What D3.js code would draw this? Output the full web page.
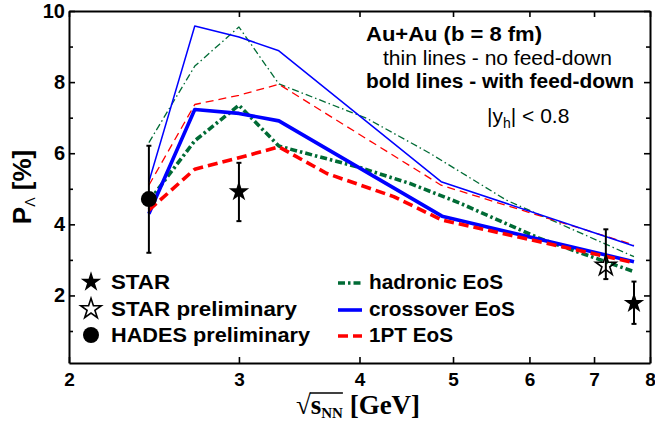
<!DOCTYPE html>
<html>
<head>
<meta charset="utf-8">
<script src="https://cdn.jsdelivr.net/npm/d3@7"></script>
<style>
  body { margin: 0; background: #fff; }
  svg { display: block; }
</style>
</head>
<body>
<div id="chart"></div>
<script>
// axis ticks
const xTicks = [2, 3, 4, 5, 6, 7, 8];
const yTicks = [2, 4, 6, 8, 10];
const yMinor = [1, 3, 5, 7, 9];

// model curves [sqrt(s_NN), P_Lambda %]
const hadronicThin = [[2.42, 6.3], [2.7, 8.45], [3.0, 9.55], [3.3, 7.95], [4.07, 6.98], [4.73, 6.0], [5.68, 4.68], [7.7, 3.09]];
const crossoverThin = [[2.42, 5.2], [2.7, 9.58], [3.0, 9.27], [3.3, 8.88], [4.86, 5.2], [7.7, 3.39]];
const onePtThin = [[2.42, 5.1], [2.7, 7.37], [3.0, 7.63], [3.3, 7.94], [4.86, 5.1], [7.7, 3.42]];
const hadronicBold = [[2.42, 4.65], [2.7, 6.35], [3.0, 7.35], [3.3, 6.2], [4.0, 5.6], [4.51, 5.15], [5.08, 4.6], [6.15, 3.6], [7.7, 2.67]];
const crossoverBold = [[2.42, 4.3], [2.7, 7.23], [3.0, 7.12], [3.3, 6.91], [4.87, 4.23], [7.7, 2.95]];
const onePtBold = [[2.42, 4.4], [2.7, 5.55], [3.0, 5.87], [3.3, 6.18], [3.7, 5.43], [4.34, 4.78], [4.87, 4.12], [7.7, 2.92]];

// measurements
const starX = [3.0, 7.7];
const starY = [4.92, 1.78];
const starLo = [4.09, 1.2];
const starHi = [5.73, 2.39];
const starPrelimX = [7.2];
const starPrelimY = [2.84];
const starPrelimLo = [2.46];
const starPrelimHi = [3.86];
const hadesX = [2.42];
const hadesY = [4.71];
const hadesLo = [3.2];
const hadesHi = [6.21];

const width = 655, height = 429;
const margin = {top: 11, right: 5, bottom: 66, left: 69};
const green = "#006b35", blue = "#0000ff", red = "#ff0000";
const sans = "'Liberation Sans', Arial, sans-serif";

const svg = d3.select("#chart").append("svg")
    .attr("width", width)
    .attr("height", height);

const x = d3.scaleLog().domain([2, 8]).range([margin.left, width - margin.right]);
const y = d3.scaleLinear().domain([0.1, 10]).range([height - margin.bottom, margin.top]);

// axes (ticks point inward on all four sides)
function styleAxis(g) {
    g.select(".domain").attr("stroke", "#000").attr("stroke-width", 2);
    g.selectAll(".tick line").attr("stroke", "#000").attr("stroke-width", 1.6);
    g.selectAll(".tick text")
        .attr("fill", "#000")
        .style("font-family", sans)
        .style("font-weight", "bold");
}

svg.append("g")
    .attr("transform", `translate(0,${height - margin.bottom})`)
    .call(d3.axisBottom(x).tickValues(xTicks).tickFormat(d3.format("d"))
        .tickSizeInner(-6).tickSizeOuter(0).tickPadding(10))
    .call(styleAxis)
    .selectAll(".tick text").style("font-size", "19px");

svg.append("g")
    .attr("transform", `translate(0,${margin.top})`)
    .call(d3.axisTop(x).tickValues(xTicks).tickFormat("")
        .tickSizeInner(-6).tickSizeOuter(0))
    .call(styleAxis);

svg.append("g")
    .attr("transform", `translate(${margin.left},0)`)
    .call(d3.axisLeft(y).tickValues(yTicks).tickFormat(d3.format("d"))
        .tickSizeInner(-6).tickSizeOuter(0).tickPadding(4))
    .call(styleAxis)
    .selectAll(".tick text").style("font-size", "20px");

svg.append("g")
    .attr("transform", `translate(${margin.left},0)`)
    .call(d3.axisLeft(y).tickValues(yMinor).tickFormat("")
        .tickSizeInner(-4).tickSizeOuter(0))
    .call(styleAxis)
    .select(".domain").remove();

svg.append("g")
    .attr("transform", `translate(${width - margin.right},0)`)
    .call(d3.axisRight(y).tickValues(yTicks).tickFormat("")
        .tickSizeInner(-6).tickSizeOuter(0))
    .call(styleAxis);

svg.append("g")
    .attr("transform", `translate(${width - margin.right},0)`)
    .call(d3.axisRight(y).tickValues(yMinor).tickFormat("")
        .tickSizeInner(-4).tickSizeOuter(0))
    .call(styleAxis)
    .select(".domain").remove();

// curves
const line = d3.line().x(d => x(d[0])).y(d => y(d[1]));
const curves = [
    {data: hadronicThin, color: green, w: 1.3, dash: "7,3,1.5,3"},
    {data: onePtThin, color: red, w: 1.3, dash: "8,5"},
    {data: crossoverThin, color: blue, w: 1.5, dash: null},
    {data: hadronicBold, color: green, w: 3.6, dash: "7,3,2.5,3"},
    {data: crossoverBold, color: blue, w: 3.6, dash: null},
    {data: onePtBold, color: red, w: 3.6, dash: "10,5"},
];

svg.append("g").selectAll("path")
    .data(curves)
    .join("path")
    .attr("d", c => line(c.data))
    .attr("fill", "none")
    .attr("stroke", c => c.color)
    .attr("stroke-width", c => c.w)
    .attr("stroke-dasharray", c => c.dash)
    .attr("stroke-linejoin", "round");

// error bars + markers
const starSym = d3.symbol().type(d3.symbolStar).size(130);
function errBars(xs, lo, hi) {
    const g = svg.append("g").attr("stroke", "#000").attr("stroke-width", 2);
    xs.forEach((v, i) => {
        g.append("line").attr("x1", x(v)).attr("x2", x(v)).attr("y1", y(lo[i])).attr("y2", y(hi[i]));
        [lo[i], hi[i]].forEach(e => g.append("line")
            .attr("x1", x(v) - 2.5).attr("x2", x(v) + 2.5).attr("y1", y(e)).attr("y2", y(e)));
    });
}
errBars(starX, starLo, starHi);
errBars(starPrelimX, starPrelimLo, starPrelimHi);
errBars(hadesX, hadesLo, hadesHi);

svg.append("g").selectAll("path")
    .data(starX)
    .join("path")
    .attr("d", starSym)
    .attr("transform", (d, i) => `translate(${x(d)},${y(starY[i])})`)
    .attr("fill", "#000");

svg.append("g").selectAll("path")
    .data(starPrelimX)
    .join("path")
    .attr("d", starSym)
    .attr("transform", (d, i) => `translate(${x(d)},${y(starPrelimY[i])})`)
    .attr("fill", "none")
    .attr("stroke", "#000")
    .attr("stroke-width", 1.6);

svg.append("g").selectAll("circle")
    .data(hadesX)
    .join("circle")
    .attr("cx", d => x(d))
    .attr("cy", (d, i) => y(hadesY[i]))
    .attr("r", 8)
    .attr("fill", "#000");

// annotation text, top right
const note = svg.append("g").style("font-family", sans).attr("fill", "#000");
note.append("text").attr("x", 366).attr("y", 41)
    .attr("textLength", 176).attr("lengthAdjust", "spacingAndGlyphs")
    .style("font-size", "20px").style("font-weight", "bold")
    .text("Au+Au (b = 8 fm)");
note.append("text").attr("x", 383).attr("y", 65)
    .attr("textLength", 229).attr("lengthAdjust", "spacingAndGlyphs")
    .style("font-size", "20px")
    .text("thin lines - no feed-down");
note.append("text").attr("x", 366).attr("y", 88)
    .attr("textLength", 268).attr("lengthAdjust", "spacingAndGlyphs")
    .style("font-size", "20px").style("font-weight", "bold")
    .text("bold lines - with feed-down");
const yh = note.append("text").attr("x", 487).attr("y", 123).style("font-size", "21px");
yh.append("tspan").text("|y");
yh.append("tspan").attr("dy", 5).style("font-size", "14px").text("h");
yh.append("tspan").attr("dy", -5).text("| < 0.8");

// legend, data markers
const legRows = [289, 316, 342];
const legL = svg.append("g").style("font-family", sans).style("font-size", "21px").style("font-weight", "bold");
[["STAR", 59], ["STAR preliminary", 186], ["HADES preliminary", 199]].forEach((t, i) => {
    legL.append("text").attr("x", 111).attr("y", legRows[i])
        .attr("textLength", t[1]).attr("lengthAdjust", "spacingAndGlyphs")
        .text(t[0]);
});
legL.append("path").attr("d", starSym).attr("transform", `translate(91,${legRows[0] - 7})`).attr("fill", "#000");
legL.append("path").attr("d", starSym).attr("transform", `translate(91,${legRows[1] - 7})`)
    .attr("fill", "none").attr("stroke", "#000").attr("stroke-width", 1.6);
legL.append("circle").attr("cx", 91).attr("cy", legRows[2] - 7).attr("r", 8).attr("fill", "#000");

// legend, models
const legItems = [
    {label: "hadronic EoS", len: 134, color: green, dash: "7,3,2.5,3"},
    {label: "crossover EoS", len: 146, color: blue, dash: null},
    {label: "1PT EoS", len: 84, color: red, dash: "10,5"},
];
const legR = svg.append("g").style("font-family", sans).style("font-size", "21px").style("font-weight", "bold");
legItems.forEach((it, i) => {
    legR.append("line").attr("x1", 338).attr("x2", 362)
        .attr("y1", legRows[i] - 6).attr("y2", legRows[i] - 6)
        .attr("stroke", it.color).attr("stroke-width", 3.6).attr("stroke-dasharray", it.dash);
    legR.append("text").attr("x", 369).attr("y", legRows[i])
        .attr("textLength", it.len).attr("lengthAdjust", "spacingAndGlyphs")
        .text(it.label);
});

// y title
const yTitle = svg.append("text")
    .attr("transform", "translate(31,187) rotate(-90)")
    .attr("text-anchor", "middle")
    .style("font-family", sans).style("font-weight", "bold").style("font-size", "26px");
yTitle.append("tspan").text("P");
yTitle.append("tspan").attr("dy", 4).style("font-size", "14px").style("font-weight", "normal").text("Λ");
yTitle.append("tspan").attr("dy", -4).text(" [%]");

// x title with radical overbar
const xTitle = svg.append("text")
    .attr("x", 358).attr("y", 414)
    .attr("text-anchor", "middle")
    .style("font-family", "'Liberation Serif', 'Times New Roman', serif")
    .style("font-weight", "bold").style("font-size", "27px");
xTitle.append("tspan").style("font-weight", "normal").text("√");
xTitle.append("tspan").text("s");
xTitle.append("tspan").attr("dy", 4).style("font-size", "15px").text("NN");
xTitle.append("tspan").attr("dy", -4).text(" [GeV]");
const tn = xTitle.node();
const e0 = tn.getExtentOfChar(0), e3 = tn.getExtentOfChar(3);
svg.append("line")
    .attr("x1", e0.x + e0.width - 1).attr("x2", e3.x + e3.width)
    .attr("y1", e0.y + 3).attr("y2", e0.y + 3)
    .attr("stroke", "#000").attr("stroke-width", 1.3);
</script>
</body>
</html>
